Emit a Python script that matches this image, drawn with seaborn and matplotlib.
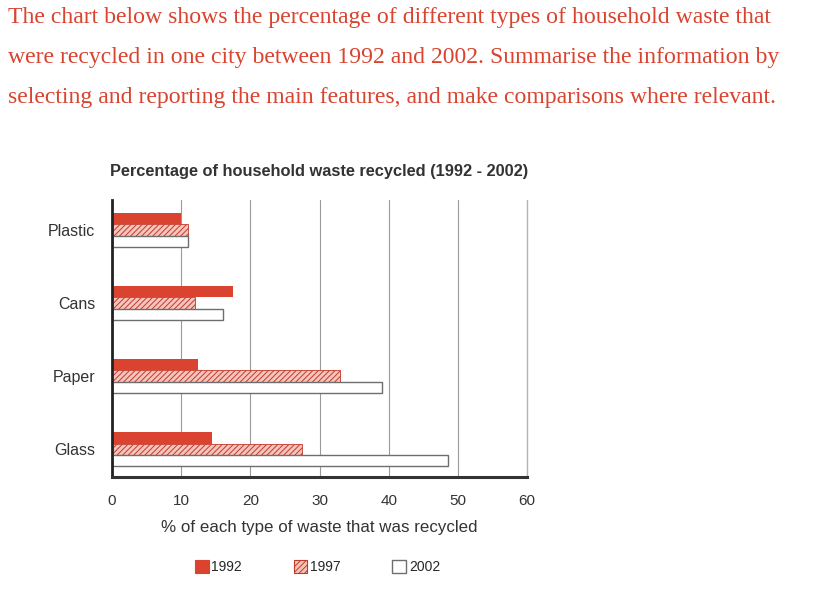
import pandas as pd
import seaborn as sns
import matplotlib.pyplot as plt
from matplotlib.patches import Patch

# valeurs (% recyclé)
categories = ['Plastic', 'Cans', 'Paper', 'Glass']
years = ['1992', '1997', '2002']
pct_1992 = [10, 17.5, 12.5, 14.5]
pct_1997 = [11, 12, 33, 27.5]
pct_2002 = [11, 16, 39, 48.5]

df = pd.DataFrame({
    'type': categories * 3,
    'year': [y for y in years for _ in categories],
    'pct': pct_1992 + pct_1997 + pct_2002,
})

sns.set_theme(style='white')
plt.rcParams['font.family'] = ['Liberation Sans', 'DejaVu Sans']
plt.rcParams['hatch.linewidth'] = 0.7

red = '#d9432f'
fig = plt.figure(figsize=(8.34, 5.90), dpi=100)
ax = fig.add_axes([0.1343, 0.1915, 0.4977, 0.4695])

sns.barplot(data=df, x='pct', y='type', hue='year', hue_order=years,
            orient='h', width=0.47, gap=0, ax=ax, legend=False)

# style de chaque série
styles = [
    dict(facecolor=red, edgecolor=red, hatch=None, linewidth=0),
    dict(facecolor='#f5c4bc', edgecolor='#c23a2a', hatch='//////', linewidth=0.6),
    dict(facecolor='white', edgecolor='#6e6e6e', hatch=None, linewidth=1.0),
]
for cont, st in zip(ax.containers, styles):
    for bar in cont:
        bar.set_facecolor(st['facecolor'])
        bar.set_edgecolor(st['edgecolor'])
        bar.set_linewidth(st['linewidth'])
        if st['hatch']:
            bar.set_hatch(st['hatch'])

ax.set_xlim(0, 60)
ax.set_xticks(range(0, 61, 10))
ax.set_ylim(3.38, -0.41)
ax.xaxis.grid(True, color='#9a9a9a', linewidth=0.8)
ax.axvline(60, color='#b5b5b5', linewidth=1.0, clip_on=False, zorder=0)
ax.yaxis.grid(False)
ax.set_axisbelow(True)
for s in ['top', 'right']:
    ax.spines[s].set_visible(False)
ax.spines['left'].set_color('#222222')
ax.spines['left'].set_linewidth(2)
ax.spines['bottom'].set_color('#333333')
ax.spines['bottom'].set_linewidth(2.2)
ax.tick_params(axis='both', length=0, colors='#333333')
ax.tick_params(axis='y', pad=12, labelsize=11.5)
ax.tick_params(axis='x', pad=12, labelsize=11)
ax.set_ylabel('')
ax.set_xlabel('% of each type of waste that was recycled', fontsize=12.2,
              color='#333333', labelpad=9)
ax.set_title('Percentage of household waste recycled (1992 - 2002)',
             fontsize=11.8, fontweight='bold', color='#333333', pad=17)

handles = [Patch(facecolor=st['facecolor'], edgecolor=st['edgecolor'],
                 hatch=st['hatch'], linewidth=max(st['linewidth'], 0.8))
           for st in styles]
ax.legend(handles, years, loc='upper center', bbox_to_anchor=(0.495, -0.255),
          ncol=3, frameon=False, fontsize=10, columnspacing=3.7,
          handlelength=1.0, handleheight=1.0, handletextpad=0.2)

# consigne en haut
lines = [
    'The chart below shows the percentage of different types of household waste that',
    'were recycled in one city between 1992 and 2002. Summarise the information by',
    'selecting and reporting the main features, and make comparisons where relevant.',
]
for i, t in enumerate(lines):
    fig.text(8 / 834, 1 - (17 + 40.5 * i) / 590, t, fontsize=17.1, color=red,
             family='Liberation Serif', va='center', ha='left')

fig.savefig('out.png', dpi=100)
